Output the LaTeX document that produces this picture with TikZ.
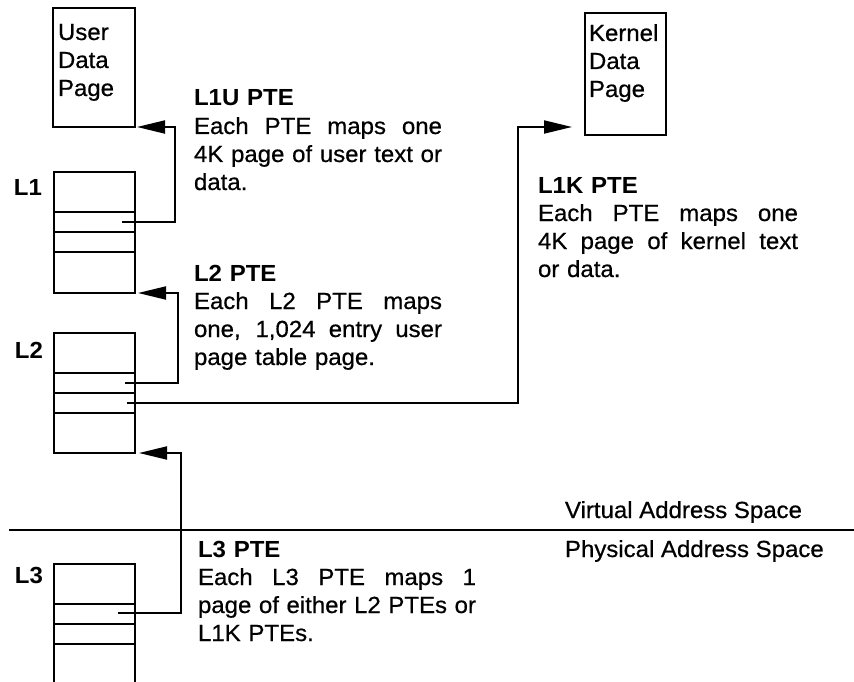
\documentclass[tikz,border=0pt]{standalone}
\usepackage{fontspec}
\setmainfont{Liberation Sans}[FakeStretch=1.03, UprightFeatures={FakeBold=0.6}]
\usetikzlibrary{arrows.meta}
% one fully justified line of a fixed width
\newcommand\jline[2]{\leavevmode\hbox to #1{\spaceskip=\fontdimen2\font plus 1fil\relax #2}}
\begin{document}
\begin{tikzpicture}[x=1bp,y=-1bp,
  every node/.style={inner sep=0pt, outer sep=0pt},
  txt/.style={font=\fontsize{23.3bp}{28bp}\selectfont, anchor=base west, align=left},
  lvl/.style={font=\fontsize{23.3bp}{28bp}\selectfont\bfseries, anchor=base east},
  pagebox/.style={draw, line width=1.8bp, anchor=north west},
  tbl/.style={draw, line width=1.8bp, anchor=north west, minimum width=81bp},
  rule/.style={line width=1.8bp},
  ptr/.style={line width=1.9bp, -{Triangle[length=28bp,width=13bp]}},
]
\useasboundingbox (0,0) rectangle (854,682);

% data pages
\node[pagebox, minimum width=82bp, minimum height=119bp] (userpg) at (53,8) {};
\node[txt, text width=76bp] (usertxt) at (58,40) {User\\Data\\Page};
\node[pagebox, minimum width=81bp, minimum height=122bp] (kernpg) at (585,13) {};
\node[txt, text width=76bp] (kerntxt) at (589,41) {Kernel\\Data\\Page};

% page tables
\node[tbl, minimum height=121bp] (l1) at (54,172) {};
\node[tbl, minimum height=120bp] (l2) at (54,333) {};
\node[tbl, minimum height=130bp] (l3) at (54,564) {};
\foreach \t in {l1,l2,l3}
  \foreach \d in {40,60,80}
    \draw[rule] ([yshift=-\d bp]\t.north west) -- ([yshift=-\d bp]\t.north east);

\node[lvl] (l1lab) at (42,195) {L1};
\node[lvl] (l2lab) at (43,358) {L2};
\node[lvl] (l3lab) at (43,583) {L3};

% entries that point onward
\coordinate (l1e) at (122,222);
\coordinate (l2e) at (125,383);
\coordinate (l2k) at (127,403);
\coordinate (l3e) at (118,613);
\coordinate (kin) at ([shift={(-13bp,8bp)}]kernpg.south west);

\draw[ptr] (l1e) -- ++(53,0) |- ([xshift=2bp]userpg.south east);
\draw[ptr] (l2e) -- ++(53,0) |- ([xshift=3bp]l1.south east);
\draw[ptr] (l2k) -- ++(391,0) |- (kin);
\draw[ptr] (l3e) -- ++(63,0) |- ([xshift=4bp]l2.south east);

% virtual / physical boundary
\coordinate (divl) at (9,530);
\coordinate (divr) at (854,530);
\draw[rule] (divl) -- (divr);
\node[txt] (vas) at (565,518) {Virtual Address Space};
\node[txt] (pas) at (565,557) {Physical Address Space};

% descriptions
\node[txt, text width=248bp] (l1utxt) at (194,106)
  {\textbf{L1U PTE}\\\jline{248bp}{Each PTE maps one}\\\jline{248bp}{4K page of user text or}\\data.};
\node[txt, text width=248bp] (l2txt) at (194,281)
  {\textbf{L2 PTE}\\\jline{248bp}{Each L2 PTE maps}\\\jline{248bp}{one, 1,024 entry user}\\page table page.};
\node[txt, text width=260bp] (l1ktxt) at (538,193)
  {\textbf{L1K PTE}\\\jline{260bp}{Each PTE maps one}\\\jline{260bp}{4K page of kernel text}\\or data.};
\node[txt, text width=278bp] (l3txt) at (198,557)
  {\textbf{L3 PTE}\\\jline{278bp}{Each L3 PTE maps 1}\\\jline{278bp}{page of either L2 PTEs or}\\L1K PTEs.};
\end{tikzpicture}
\end{document}
